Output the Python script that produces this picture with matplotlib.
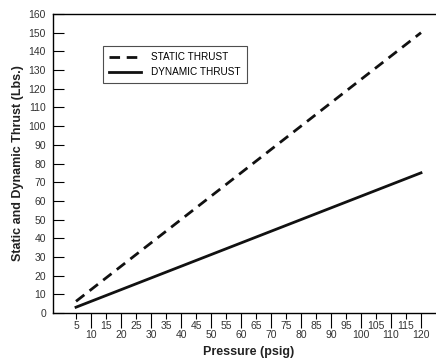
import matplotlib
matplotlib.use("Agg")
import matplotlib.pyplot as plt

plt.rcParams['font.family'] = ['Liberation Sans', 'DejaVu Sans']

# pressure (psig) vs thrust (Lbs.)
pressure = [5, 120]
static_thrust = [6.25, 150]
dynamic_thrust = [3.1, 75]

major_ticks = list(range(10, 121, 10))
minor_ticks = list(range(5, 116, 10))
y_ticks = list(range(0, 161, 10))

fig = plt.figure(figsize=(4.36, 3.62), dpi=100)
ax = fig.add_axes([53 / 436, 49 / 362, 392 / 436, 299 / 362])

ax.plot(pressure, static_thrust, color="#111111", lw=2.0, linestyle=(0, (3.8, 2.4)),
        label="STATIC THRUST")
ax.plot(pressure, dynamic_thrust, color="#111111", lw=2.0, label="DYNAMIC THRUST")

ax.set_xlim(-2.67, 128)
ax.set_ylim(0, 160)

ax.set_xticks(major_ticks)
ax.set_xticklabels([str(v) for v in major_ticks])
ax.set_xticks(minor_ticks, minor=True)
ax.set_xticklabels([str(v) for v in minor_ticks], minor=True)
ax.set_yticks(y_ticks)

ax.tick_params(axis="x", which="major", direction="out", length=11, width=0.8,
               pad=1.5, labelsize=7.5, labelcolor="#333333")
ax.tick_params(axis="x", which="minor", direction="out", length=4, width=0.8,
               pad=2, labelsize=7.5, labelcolor="#333333")
ax.tick_params(axis="y", direction="in", length=8, width=0.8, pad=5,
               labelsize=7.5, labelcolor="#333333")

for s in ax.spines.values():
    s.set_linewidth(1.0)

ax.set_xlabel("Pressure (psig)", fontsize=9, fontweight="bold", color="#222222", labelpad=4)
ax.set_ylabel("Static and Dynamic Thrust (Lbs.)", fontsize=9, fontweight="bold",
              color="#222222", labelpad=3)

leg = ax.legend(loc="upper left", bbox_to_anchor=(45 / 392, 1 - 27 / 299),
                fontsize=7.2, frameon=True, fancybox=False, handlelength=3.2,
                borderpad=0.6, labelspacing=0.5, handletextpad=1.0)
leg.get_frame().set_edgecolor("#222222")
leg.get_frame().set_linewidth(0.8)

fig.savefig("out.png", dpi=100)
